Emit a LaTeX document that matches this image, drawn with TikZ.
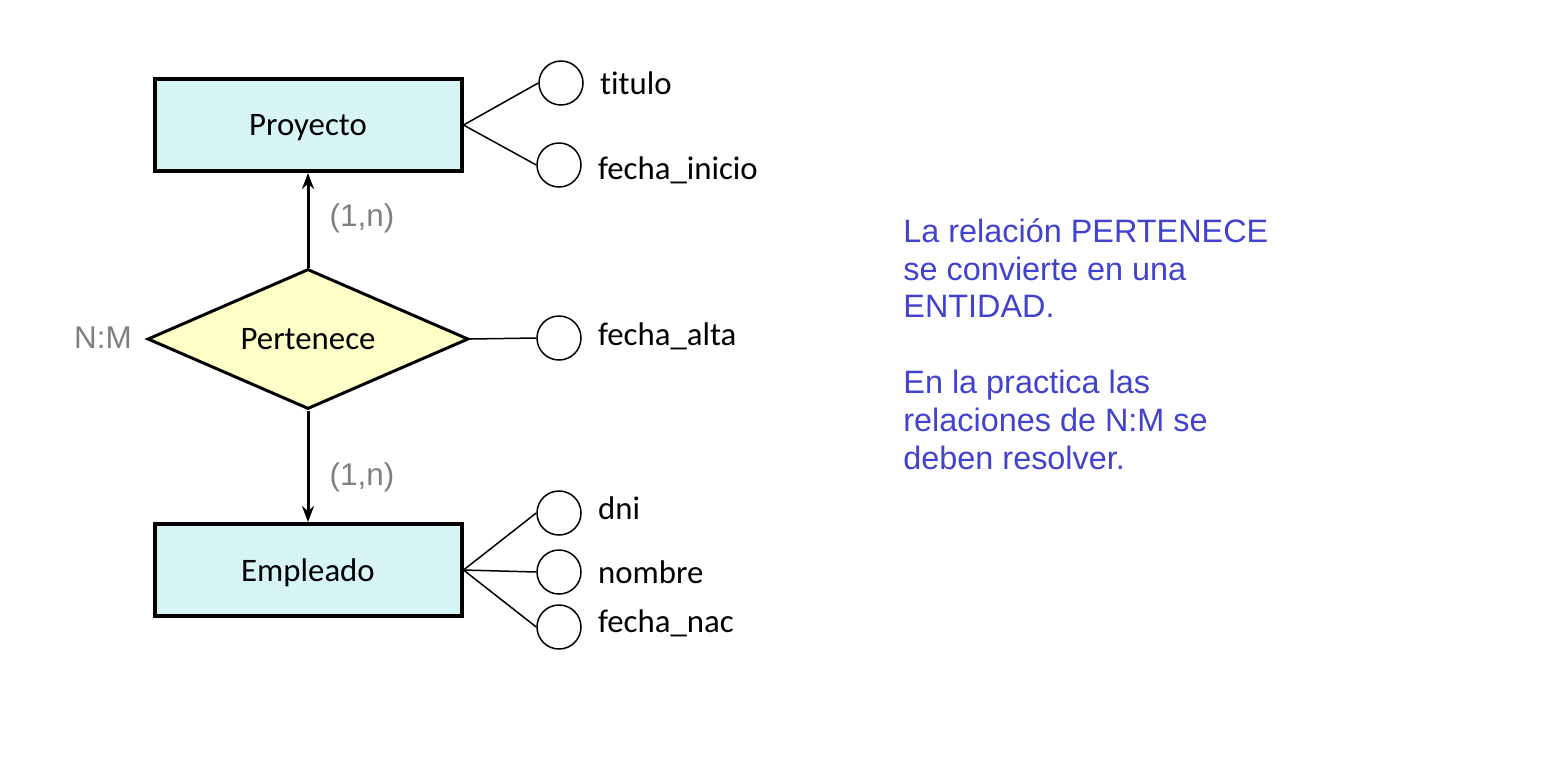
\documentclass[tikz,border=0pt]{standalone}
\usepackage{fontspec}
\setmainfont{Carlito}[Ligatures=NoCommon]
\newfontfamily\arialfont{Liberation Sans}
\usetikzlibrary{positioning,shapes.geometric,arrows.meta}
\definecolor{entfill}{RGB}{214,245,244}
\definecolor{relfill}{RGB}{255,255,200}
\definecolor{notecol}{RGB}{66,66,208}
\definecolor{cardcol}{RGB}{128,128,128}

\begin{document}
\begin{tikzpicture}[x=0.5pt,y=-0.5pt,
        entity/.style={rectangle, draw=black, line width=2pt, fill=entfill, minimum width=153.5pt, minimum height=46pt, text depth=0pt, font=\fontsize{16.4}{19}\selectfont},
        relation/.style={diamond, aspect=2.3, draw=black, line width=1.5pt, fill=relfill, minimum width=160.5pt, minimum height=70pt, inner sep=0pt, font=\fontsize{16.4}{19}\selectfont},
        attrib/.style={circle, draw=black, line width=0.75pt, minimum size=22pt, inner sep=0pt},
        attname/.style={inner sep=0pt, font=\fontsize{16.4}{19}\selectfont},
        card/.style={inner sep=0pt, text=cardcol, font=\arialfont\fontsize{15.7}{18}\selectfont},
        conn/.style={line width=1.5pt, -{Stealth[length=8pt,width=6pt]}},
        attline/.style={line width=0.75pt}]
        \useasboundingbox (0,0) rectangle (1550,777);

        \node[entity](pro) at (308,125) {Proyecto};
        \node[relation](rel) at (308,339) {Pertenece};
        \node[entity](emp) at (308,570) {Empleado};

        \node[attrib](tit) at (561,83) {};
        \node[attrib](fin) at (559,165) {};
        \node[attrib](fal) at (559,338) {};
        \node[attrib](dni) at (559,513) {};
        \node[attrib](nom) at (559,572) {};
        \node[attrib](fna) at (559,627) {};

        \node[attname](titname) [right=8pt of tit] {titulo};
        \node[attname](finname) [right=8pt of fin, yshift=-2.5pt] {fecha\_inicio};
        \node[attname](falname) [right=8pt of fal, yshift=1pt] {fecha\_alta};
        \node[attname](dniname) [right=8pt of dni, yshift=2.5pt] {dni};
        \node[attname](nomname) [right=8pt of nom] {nombre};
        \node[attname](fnaname) [right=8pt of fna, yshift=2pt] {fecha\_nac};

        \node[card](card1) at (362,218) {(1,n)};
        \node[card](card2) at (362,477) {(1,n)};
        \node[card](nm) at (103,338) {N:M};

        \node[inner sep=0pt, anchor=north west, align=left, text=notecol, font=\arialfont\fontsize{16.2}{18.9}\selectfont](note) at (903,218)
            {La relación PERTENECE\\se convierte en una\\ENTIDAD.\\[18.9pt]En la practica las\\relaciones de N:M se\\deben resolver.};

        \draw[conn] (rel.north) -- (pro.south);
        \draw[conn] (rel.south) -- (emp.north);

        \draw[attline] (pro.east) -- (tit.west);
        \draw[attline] (pro.east) -- (fin.west);
        \draw[attline] (rel.east) -- (fal.west);
        \draw[attline] (emp.east) -- (dni.west);
        \draw[attline] (emp.east) -- (nom.west);
        \draw[attline] (emp.east) -- (fna.west);
    \end{tikzpicture}
\end{document}
